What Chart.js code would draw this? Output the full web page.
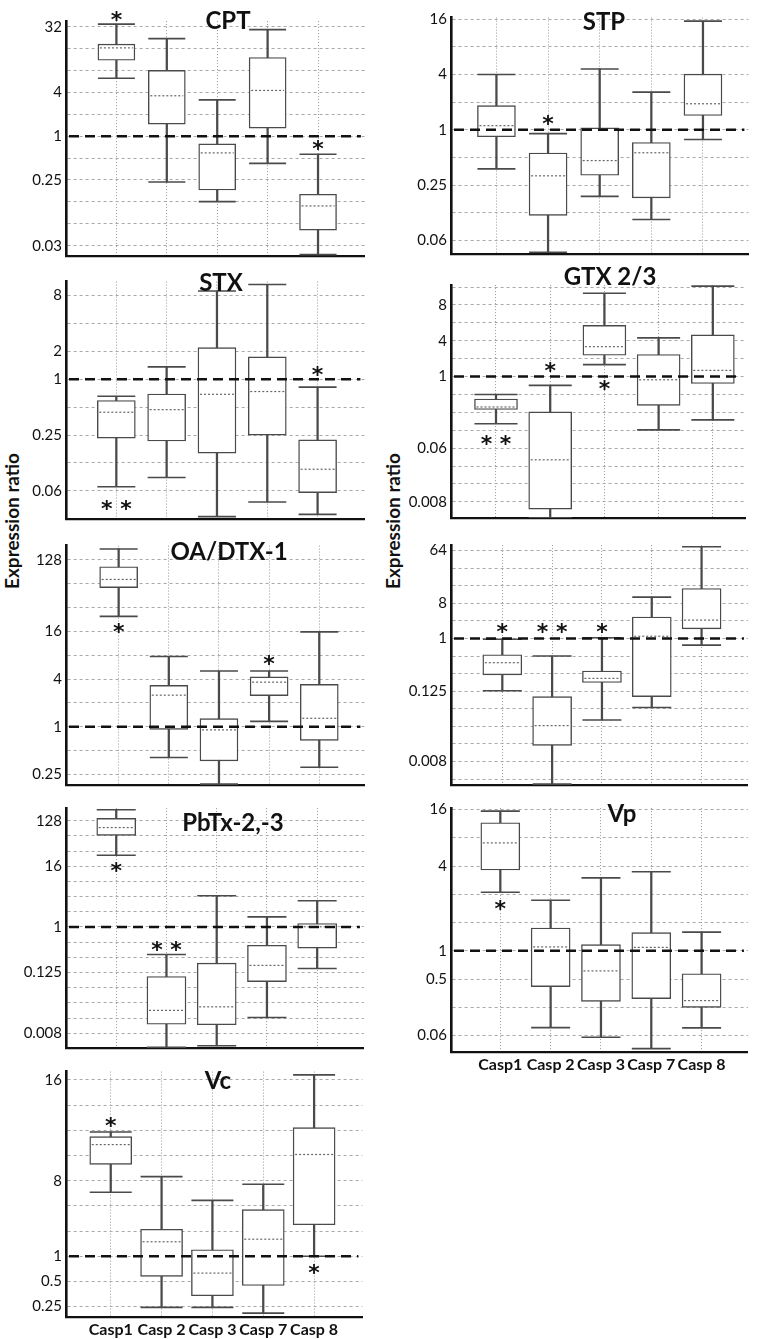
<!DOCTYPE html>
<html>
<head>
<meta charset="utf-8">
<script src="https://cdn.jsdelivr.net/npm/chart.js@4.4.0/dist/chart.umd.min.js"></script>
<style>
body{margin:0;background:#fff;width:769px;height:1339px;position:relative;overflow:hidden}
canvas{position:absolute}
.ylab{position:absolute;font:bold 19px Lato;color:#111;transform:translate(-50%,-50%) rotate(-90deg);white-space:nowrap}
</style>
</head>
<body>
<div class="ylab" style="left:11px;top:521px">Expression ratio</div>
<div class="ylab" style="left:392px;top:521px">Expression ratio</div>
<script>
var categories = ['Casp1', 'Casp 2', 'Casp 3', 'Casp 7', 'Casp 8']

// each row: [min, q1, median, q3, max] for Casp1, 2, 3, 7, 8
var cptBoxes = [
	[6.28, 11.1, 16.4, 18.5, 34.8],
	[0.235, 1.47, 3.6, 8.06, 22.0],
	[0.126, 0.182, 0.59, 0.785, 3.16],
	[0.423, 1.29, 4.26, 12.1, 29.2],
	[0.0235, 0.0511, 0.11, 0.159, 0.566]
]
var stpBoxes = [
	[0.376, 0.841, 1.11, 1.83, 4.0],
	[0.0467, 0.1175, 0.316, 0.559, 0.908],
	[0.189, 0.321, 0.463, 1.05, 4.59],
	[0.106, 0.182, 0.563, 0.727, 2.57],
	[0.785, 1.43, 1.92, 4.03, 15.2]
]
var stxBoxes = [
	[0.0693, 0.232, 0.441, 0.59, 0.655],
	[0.0872, 0.216, 0.47, 0.693, 1.36],
	[0.033, 0.16, 0.688, 2.19, 8.94],
	[0.0474, 0.25, 0.737, 1.74, 10.5],
	[0.0349, 0.06, 0.107, 0.222, 0.823]
]
var gtxBoxes = [
	[0.161, 0.279, 0.308, 0.42, 0.5],
	[0.0042, 0.0059, 0.0398, 0.254, 0.712],
	[1.59, 2.28, 3.18, 7.26, 25.1],
	[0.127, 0.328, 0.883, 2.35, 4.47],
	[0.187, 0.763, 1.27, 5.03, 33.1]
]
var oaBoxes = [
	[24.8, 57.3, 72.5, 105, 176],
	[0.409, 0.927, 2.51, 3.34, 7.73],
	[0.189, 0.371, 0.914, 1.27, 5.06],
	[1.17, 2.48, 3.66, 4.26, 5.06],
	[0.308, 0.674, 1.28, 3.43, 15.8]
]
var noTitleBoxes = [
	[0.127, 0.238, 0.384, 0.525, 0.966],
	[0.0032, 0.0147, 0.0321, 0.101, 0.5],
	[0.0401, 0.176, 0.207, 0.277, 1.03],
	[0.0655, 0.101, 1.09, 2.33, 5.1],
	[0.768, 1.46, 2.06, 7.16, 37.3]
]
var pbtxBoxes = [
	[26.4, 65.8, 93.7, 143, 212],
	[0.0041, 0.0118, 0.0222, 0.104, 0.285],
	[0.0044, 0.0115, 0.0261, 0.192, 4.17],
	[0.016, 0.0825, 0.173, 0.435, 1.59],
	[0.15, 0.381, 1.01, 1.17, 3.32]
]
var vpBoxes = [
	[4.2, 7.26, 14.1, 23.1, 30.7],
	[0.152, 0.415, 1.1, 1.75, 3.46],
	[0.12, 0.289, 0.611, 1.165, 5.98],
	[0.0909, 0.31, 1.087, 1.56, 6.96],
	[0.151, 0.25, 0.295, 0.57, 1.58]
]
var vcBoxes = [
	[5.82, 12.55, 21.6, 26.9, 30.5],
	[0.245, 0.574, 1.49, 2.1, 8.94],
	[0.245, 0.337, 0.629, 1.197, 4.66],
	[0.209, 0.447, 1.6, 3.61, 7.26],
	[1.0, 2.38, 16.45, 34.5, 147]
]

// labelled ticks (value on the axis, text shown)
var cptTicks = [32, 4, 1, 0.25, 0.03125],        cptTickText = ['32', '4', '1', '0.25', '0.03']
var stpTicks = [16, 4, 1, 0.25, 0.0625],         stpTickText = ['16', '4', '1', '0.25', '0.06']
var stxTicks = [8, 2, 1, 0.25, 0.0625],          stxTickText = ['8', '2', '1', '0.25', '0.06']
var gtxTicks = [16, 4, 1, 0.0625, 0.0078125],    gtxTickText = ['8', '4', '1', '0.06', '0.008']
var oaTicks = [128, 16, 4, 1, 0.25],             oaTickText = ['128', '16', '4', '1', '0.25']
var noTitleTicks = [32, 4, 1, 0.125, 0.0078125], noTitleTickText = ['64', '8', '1', '0.125', '0.008']
var pbtxTicks = [128, 16, 1, 0.125, 0.0078125],  pbtxTickText = ['128', '16', '1', '0.125', '0.008']
var vpTicks = [32, 8, 1, 0.5, 0.125],            vpTickText = ['16', '4', '1', '0.5', '0.06']
var vcTicks = [128, 8, 1, 0.5, 0.25],            vcTickText = ['16', '8', '1', '0.5', '0.25']

// significance marks: [category index, value, mark]
var cptStars = [[0, 47.2, '*'], [4, 0.785, '*']]
var stpStars = [[1, 1.3, '*']]
var stxStars = [[0, 0.0448, '**'], [4, 1.25, '*']]
var gtxStars = [[0, 0.0877, '**'], [1, 1.53, '*'], [2, 0.737, '*']]
var oaStars = [[0, 18.4, '*'], [3, 7.11, '*']]
var noTitleStars = [[0, 1.56, '*'], [1, 1.56, '**'], [2, 1.56, '*']]
var pbtxStars = [[0, 16, '*'], [1, 0.447, '**']]
var vpStars = [[0, 3.12, '*']]
var vcStars = [[0, 41.9, '*'], [4, 0.717, '*']]

var panels = [
	{title: 'CPT', boxes: cptBoxes, tv: cptTicks, tt: cptTickText, stars: cptStars, col: 0, top: 17, bottom: 260, yr: [0.0226, 38.3], g: [-5, 5], xr: [0, 5.93], bw: 37, tx: 228, ty: 21},
	{title: 'STX', boxes: stxBoxes, tv: stxTicks, tt: stxTickText, stars: stxStars, col: 0, top: 277, bottom: 524, yr: [0.0308, 11.3], g: [-4, 3], xr: [0, 5.93], bw: 38, tx: 221, ty: 283},
	{title: 'OA/DTX-1', boxes: oaBoxes, tv: oaTicks, tt: oaTickText, stars: oaStars, col: 0, top: 541, bottom: 790, yr: [0.182, 194], g: [-2, 7], xr: [-0.05, 5.9], bw: 38, tx: 229, ty: 552},
	{title: 'PbTx-2,-3', boxes: pbtxBoxes, tv: pbtxTicks, tt: pbtxTickText, stars: pbtxStars, col: 0, top: 803, bottom: 1053, yr: [0.0040, 228], g: [-7, 7], xr: [0, 5.93], bw: 39, tx: 233, ty: 823},
	{title: 'Vc', boxes: vcBoxes, tv: vcTicks, tt: vcTickText, stars: vcStars, col: 0, top: 1065, bottom: 1317, yr: [0.188, 161], g: [-2, 7], xr: [0.12, 5.95], bw: 42, tx: 218, ty: 1081, labels: true},
	{title: 'STP', boxes: stpBoxes, tv: stpTicks, tt: stpTickText, stars: stpStars, col: 1, top: 13, bottom: 259, yr: [0.0442, 16.6], g: [-4, 4], xr: [0.12, 5.88], bw: 38, tx: 604, ty: 22},
	{title: 'GTX 2/3', boxes: gtxBoxes, tv: gtxTicks, tt: gtxTickText, stars: gtxStars, col: 1, top: 278, bottom: 525, yr: [0.0042, 34.5], g: [-7, 5], xr: [0.17, 5.61], bw: 43, tx: 610, ty: 277},
	{title: '', boxes: noTitleBoxes, tv: noTitleTicks, tt: noTitleTickText, stars: noTitleStars, col: 1, top: 540, bottom: 790, yr: [0.0031, 39.7], g: [-8, 5], xr: [-0.03, 5.93], bw: 39},
	{title: 'Vp', boxes: vpBoxes, tv: vpTicks, tt: vpTickText, stars: vpStars, col: 1, top: 803, bottom: 1052, yr: [0.0836, 33.1], g: [-3, 5], xr: [0.02, 5.92], bw: 39, tx: 622, ty: 814, labels: true}
]

Chart.defaults.font.family = 'Lato'
Chart.defaults.color = '#111'

var lineGrey = '#4a4a4a'

function makeExtras(p, canvasTop, colX){
	return {
		id: 'extras',
		afterDatasetsDraw: function(chart){
			var ctx = chart.ctx, xs = chart.scales.x, ys = chart.scales.y, a = chart.chartArea
			ctx.save()
			// medians
			ctx.setLineDash([2, 2])
			ctx.strokeStyle = '#666'
			ctx.lineWidth = 1.2
			p.boxes.forEach(function(b, i){
				var x = xs.getPixelForValue(i + 1), y = ys.getPixelForValue(b[2])
				ctx.beginPath()
				ctx.moveTo(x - p.bw / 2 + 2, y)
				ctx.lineTo(x + p.bw / 2 - 2, y)
				ctx.stroke()
			})
			// ratio = 1
			var y1 = ys.getPixelForValue(1)
			ctx.setLineDash([10, 6])
			ctx.strokeStyle = '#111'
			ctx.lineWidth = 2.6
			ctx.beginPath()
			ctx.moveTo(a.left + 3, y1)
			ctx.lineTo(a.right - 4, y1)
			ctx.stroke()
			ctx.setLineDash([])
			// stars
			ctx.fillStyle = '#111'
			ctx.font = 'bold 22px "DejaVu Sans"'
			ctx.textAlign = 'center'
			ctx.textBaseline = 'alphabetic'
			p.stars.forEach(function(s){
				ctx.fillText(s[2] == '**' ? '* *' : '*', xs.getPixelForValue(s[0] + 1), ys.getPixelForValue(s[1]) + 12)
			})
			if (p.title){
				ctx.font = 'bold 24px Lato'
				ctx.textBaseline = 'middle'
				ctx.fillText(p.title, p.tx - colX, p.ty - canvasTop)
			}
			ctx.restore()
		}
	}
}

panels.forEach(function(p){
	var colX = p.col * 384
	var padTop = 16
	var xh = p.labels ? 30 : 16
	var canvasTop = p.top - padTop
	var W = 385, H = p.bottom - p.top + padTop + xh
	var cv = document.createElement('canvas')
	cv.width = W
	cv.height = H
	cv.style.left = colX + 'px'
	cv.style.top = canvasTop + 'px'
	cv.style.width = W + 'px'
	cv.style.height = H + 'px'
	document.body.appendChild(cv)

	var gridVals = []
	for (var k = p.g[0]; k <= p.g[1]; k++) gridVals.push(Math.pow(2, k))

	var stems = p.boxes.map(function(b, i){ return {x: i + 1, y: [b[0], b[4]]} })
	var boxes = p.boxes.map(function(b, i){ return {x: i + 1, y: [b[1], b[3]]} })
	var caps = []
	p.boxes.forEach(function(b, i){
		caps.push({x: i + 1, y: b[0]})
		caps.push({x: i + 1, y: b[4]})
	})

	new Chart(cv, {
		type: 'bar',
		data: {
			datasets: [
				{type: 'scatter', data: caps, pointStyle: 'line', pointRadius: p.bw / 2, borderColor: lineGrey, borderWidth: 1.6, order: 1},
				{data: boxes, backgroundColor: '#fff', borderColor: lineGrey, borderWidth: 1.4, borderSkipped: false, barThickness: p.bw, grouped: false, order: 2},
				{data: stems, backgroundColor: lineGrey, borderWidth: 0, barThickness: 1.6, grouped: false, order: 3}
			]
		},
		options: {
			responsive: false,
			animation: false,
			devicePixelRatio: 1,
			layout: {padding: {top: padTop, right: p.col ? 5 : 7, left: 0, bottom: 0}},
			plugins: {legend: {display: false}, tooltip: {enabled: false}},
			scales: {
				x: {
					type: 'linear', min: p.xr[0], max: p.xr[1], offset: false,
					afterBuildTicks: function(s){ s.ticks = categories.map(function(c, i){ return {value: i + 1} }) },
					afterFit: function(s){ s.height = xh },
					grid: {offset: false, drawTicks: false, color: '#9a9a9a', lineWidth: 1},
					border: {color: '#111', width: 2.2, dash: [1, 2]},
					ticks: {display: !!p.labels, padding: 3, autoSkip: false, maxRotation: 0, font: {size: 16, weight: 'bold'}, color: '#111',
						callback: function(v, i){ return categories[i] }}
				},
				y: {
					type: 'logarithmic', min: p.yr[0], max: p.yr[1], bounds: 'data',
					afterBuildTicks: function(s){ s.ticks = gridVals.map(function(v){ return {value: v} }) },
					afterFit: function(s){ s.width = p.col ? 67 : 66 },
					grid: {drawTicks: false, color: '#a8a8a8', lineWidth: 1},
					border: {color: '#111', width: 2.6, dash: [3, 3]},
					ticks: {padding: 4, autoSkip: false, font: {size: 15}, color: '#111',
						callback: function(v){
							var k = p.tv.findIndex(function(t){ return Math.abs(t - v) / t < 1e-6 })
							return k < 0 ? '' : p.tt[k]
						}}
				}
			}
		},
		plugins: [makeExtras(p, canvasTop, colX)]
	})
})
</script>
</body>
</html>
